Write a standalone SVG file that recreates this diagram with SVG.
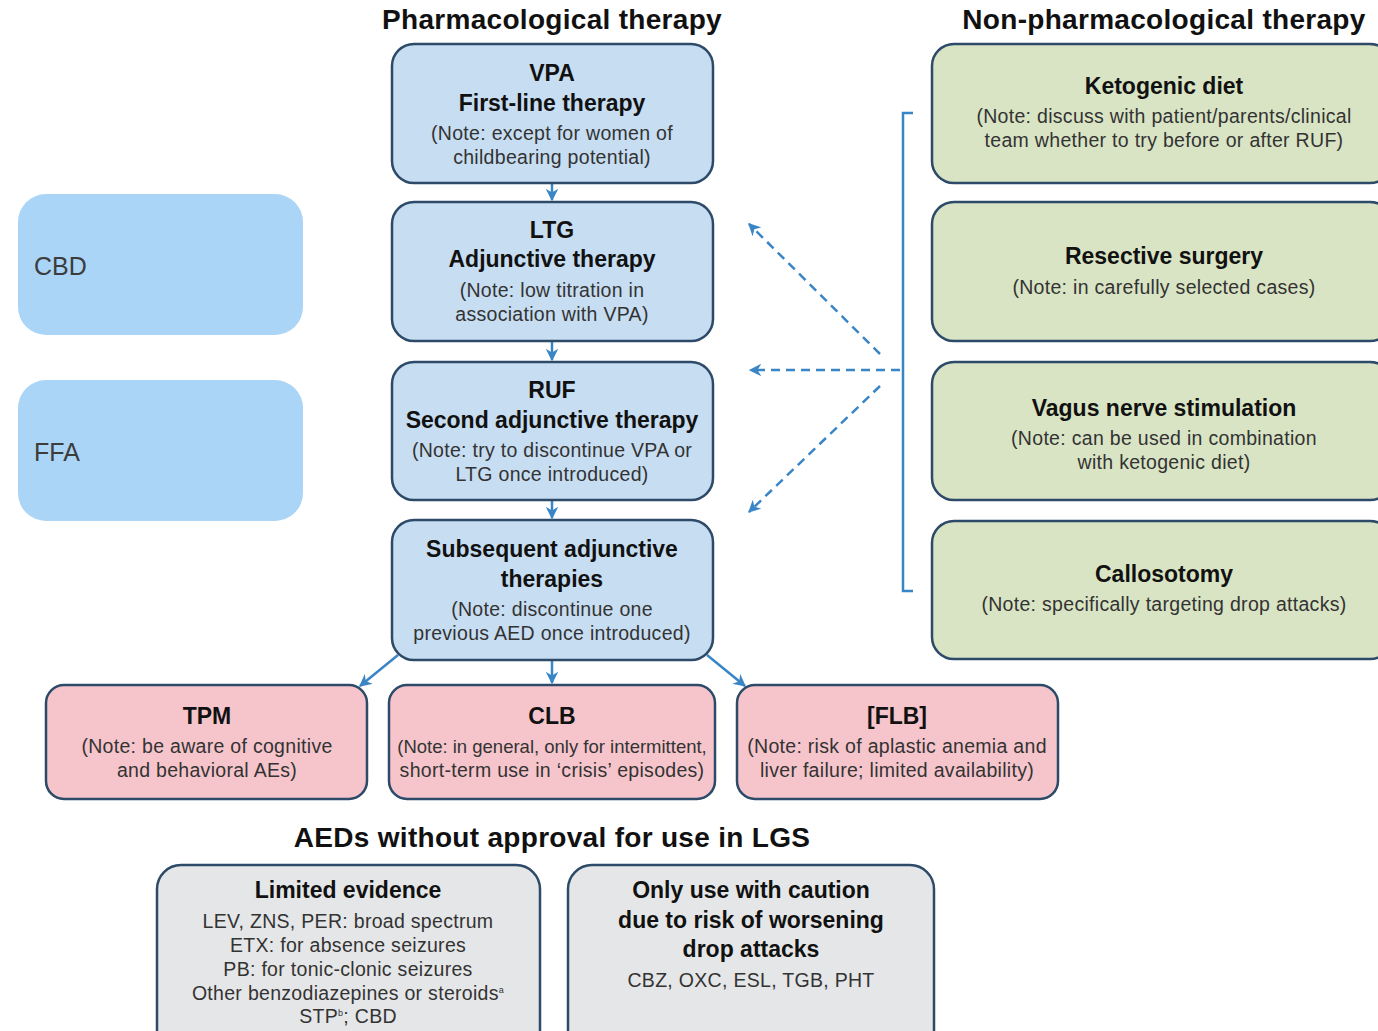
<svg xmlns="http://www.w3.org/2000/svg" width="1378" height="1031" viewBox="0 0 1378 1031">
<defs>
<style>
.box{stroke:#2d4a68;stroke-width:2.5}
.blue{fill:#c7ddf2}
.green{fill:#d9e4c4}
.pink{fill:#f6c5cc}
.gray{fill:#e5e6e7}
.side{fill:#aad5f7}
.h{font-family:"Liberation Sans",Arial,sans-serif;font-weight:bold;fill:#111;text-anchor:middle}
.t1{font-size:23px}
.t0{font-size:28px;letter-spacing:0.3px}
.n{font-family:"Liberation Sans",Arial,sans-serif;font-size:19.5px;letter-spacing:0.3px;fill:#333;text-anchor:middle}
.s{font-family:"Liberation Sans",Arial,sans-serif;font-size:25px;fill:#3c3c3c}
.c{stroke:#3a85c6;stroke-width:2.5;fill:none}
.d{stroke:#3a85c6;stroke-width:2.5;fill:none;stroke-dasharray:9 6}
</style>
<marker id="ah" viewBox="0 0 10 10" refX="9" refY="5" markerWidth="5" markerHeight="5" orient="auto" markerUnits="strokeWidth">
<path d="M0,0 L10,5 L0,10 L3,5 z" fill="#3a85c6"/>
</marker>
</defs>
<rect width="1378" height="1031" fill="#ffffff"/>

<text class="h t0" x="552" y="29">Pharmacological therapy</text>
<text class="h t0" x="1164" y="29">Non-pharmacological therapy</text>
<text class="h t0" x="552" y="847">AEDs without approval for use in LGS</text>

<g id="connectors">
<line class="c" x1="552" y1="184" x2="552" y2="200" marker-end="url(#ah)"/>
<line class="c" x1="552" y1="342" x2="552" y2="360" marker-end="url(#ah)"/>
<line class="c" x1="552" y1="501" x2="552" y2="518" marker-end="url(#ah)"/>
<line class="c" x1="552" y1="661" x2="552" y2="683" marker-end="url(#ah)"/>
<line class="c" x1="398" y1="655" x2="360" y2="686" marker-end="url(#ah)"/>
<line class="c" x1="707" y1="655" x2="745" y2="686" marker-end="url(#ah)"/>
<path class="c" d="M913,113 L903,113 L903,591 L913,591"/>
<line class="d" x1="900" y1="370" x2="750" y2="370" marker-end="url(#ah)"/>
<line class="d" x1="880" y1="354" x2="749" y2="224" marker-end="url(#ah)"/>
<line class="d" x1="880" y1="386" x2="749" y2="512" marker-end="url(#ah)"/>
</g>

<g id="cbd">
<rect class="side" x="18" y="194" width="285" height="141" rx="28"/>
<text class="s" x="34" y="275">CBD</text>
</g>
<g id="ffa">
<rect class="side" x="18" y="380" width="285" height="141" rx="28"/>
<text class="s" x="34" y="461">FFA</text>
</g>

<g id="vpa">
<rect class="box blue" x="392" y="44" width="321" height="139" rx="22"/>
<text class="h t1" x="552" y="81">VPA</text>
<text class="h t1" x="552" y="111">First-line therapy</text>
<text class="n" x="552" y="140">(Note: except for women of</text>
<text class="n" x="552" y="164">childbearing potential)</text>
</g>
<g id="ltg">
<rect class="box blue" x="392" y="202" width="321" height="139" rx="22"/>
<text class="h t1" x="552" y="238">LTG</text>
<text class="h t1" x="552" y="267">Adjunctive therapy</text>
<text class="n" x="552" y="297">(Note: low titration in</text>
<text class="n" x="552" y="321">association with VPA)</text>
</g>
<g id="ruf">
<rect class="box blue" x="392" y="362" width="321" height="138" rx="22"/>
<text class="h t1" x="552" y="398">RUF</text>
<text class="h t1" x="552" y="428">Second adjunctive therapy</text>
<text class="n" x="552" y="457">(Note: try to discontinue VPA or</text>
<text class="n" x="552" y="481">LTG once introduced)</text>
</g>
<g id="subsequent">
<rect class="box blue" x="392" y="520" width="321" height="140" rx="22"/>
<text class="h t1" x="552" y="557">Subsequent adjunctive</text>
<text class="h t1" x="552" y="587">therapies</text>
<text class="n" x="552" y="616">(Note: discontinue one</text>
<text class="n" x="552" y="640">previous AED once introduced)</text>
</g>

<g id="keto">
<rect class="box green" x="932" y="44" width="460" height="139" rx="22"/>
<text class="h t1" x="1164" y="94">Ketogenic diet</text>
<text class="n" x="1164" y="123">(Note: discuss with patient/parents/clinical</text>
<text class="n" x="1164" y="147">team whether to try before or after RUF)</text>
</g>
<g id="resective">
<rect class="box green" x="932" y="202" width="460" height="139" rx="22"/>
<text class="h t1" x="1164" y="264">Resective surgery</text>
<text class="n" x="1164" y="294">(Note: in carefully selected cases)</text>
</g>
<g id="vagus">
<rect class="box green" x="932" y="362" width="460" height="138" rx="22"/>
<text class="h t1" x="1164" y="416">Vagus nerve stimulation</text>
<text class="n" x="1164" y="445">(Note: can be used in combination</text>
<text class="n" x="1164" y="469">with ketogenic diet)</text>
</g>
<g id="callosotomy">
<rect class="box green" x="932" y="521" width="460" height="138" rx="22"/>
<text class="h t1" x="1164" y="582">Callosotomy</text>
<text class="n" x="1164" y="611">(Note: specifically targeting drop attacks)</text>
</g>

<g id="tpm">
<rect class="box pink" x="46" y="685" width="321" height="114" rx="18"/>
<text class="h t1" x="207" y="724">TPM</text>
<text class="n" x="207" y="753">(Note: be aware of cognitive</text>
<text class="n" x="207" y="777">and behavioral AEs)</text>
</g>
<g id="clb">
<rect class="box pink" x="389" y="685" width="326" height="114" rx="18"/>
<text class="h t1" x="552" y="724">CLB</text>
<text class="n" x="552" y="753" style="font-size:18.5px;letter-spacing:0">(Note: in general, only for intermittent,</text>
<text class="n" x="552" y="777">short-term use in ‘crisis’ episodes)</text>
</g>
<g id="flb">
<rect class="box pink" x="737" y="685" width="321" height="114" rx="18"/>
<text class="h t1" x="897" y="724">[FLB]</text>
<text class="n" x="897" y="753">(Note: risk of aplastic anemia and</text>
<text class="n" x="897" y="777">liver failure; limited availability)</text>
</g>

<g id="limited">
<rect class="box gray" x="157" y="865" width="383" height="190" rx="24"/>
<text class="h t1" x="348" y="898">Limited evidence</text>
<text class="n" x="348" y="928">LEV, ZNS, PER: broad spectrum</text>
<text class="n" x="348" y="952">ETX: for absence seizures</text>
<text class="n" x="348" y="976">PB: for tonic-clonic seizures</text>
<text class="n" x="348" y="1000">Other benzodiazepines or steroids<tspan font-size="9" dy="-7">a</tspan></text>
<text class="n" x="348" y="1023">STP<tspan font-size="9" dy="-7">b</tspan><tspan dy="7">; CBD</tspan></text>
</g>
<g id="caution">
<rect class="box gray" x="568" y="865" width="366" height="190" rx="24"/>
<text class="h t1" x="751" y="898">Only use with caution</text>
<text class="h t1" x="751" y="928">due to risk of worsening</text>
<text class="h t1" x="751" y="957">drop attacks</text>
<text class="n" x="751" y="987">CBZ, OXC, ESL, TGB, PHT</text>
</g>
</svg>
